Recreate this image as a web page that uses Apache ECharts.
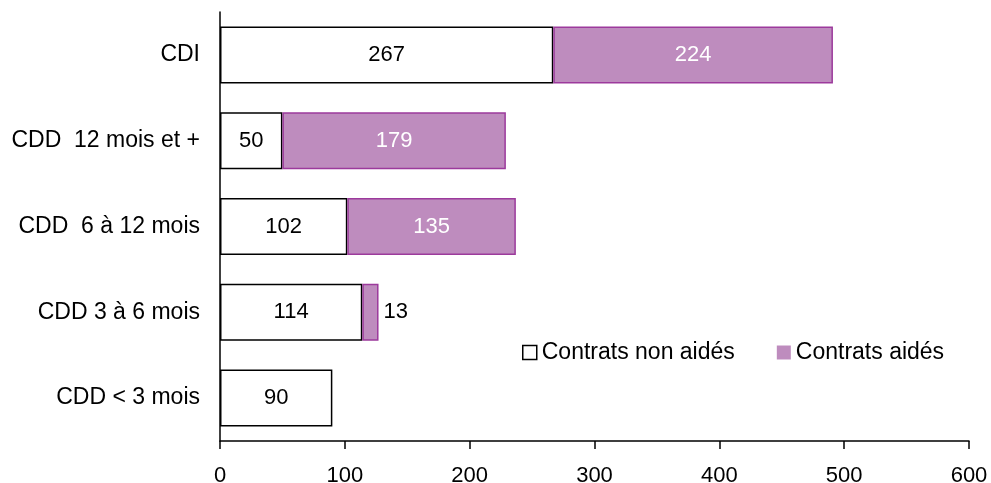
<!DOCTYPE html>
<html>
<head>
<meta charset="utf-8">
<script src="https://cdn.jsdelivr.net/npm/echarts@6/dist/echarts.min.js"></script>
<style>
  html, body { margin: 0; padding: 0; background: #fff; }
  #chart { width: 991px; height: 483px; }
</style>
</head>
<body>
<div id="chart"></div>
<script>
// Contract types, top to bottom
const categories = ['CDI', 'CDD  12 mois et +', 'CDD  6 à 12 mois', 'CDD 3 à 6 mois', 'CDD < 3 mois'];
const nonAides = [267, 50, 102, 114, 90];
const aides = [224, 179, 135, 13, null];
const xTicks = [0, 100, 200, 300, 400, 500, 600];

const FONT = '"Liberation Sans", Arial, sans-serif';
const FS_NUM = 22;
const FS_TXT = 23;
const PURPLE = '#be8cbe';
const PURPLE_EDGE = '#9c3a9c';

// Narrow segments get their label outside, to the right
const aidesData = aides.map(v => {
  if (v === null) return null;
  if (v < 30) {
    return { value: v, label: { position: 'right', color: '#000', distance: 5 } };
  }
  return v;
});

const chart = echarts.init(document.getElementById('chart'), null, { renderer: 'canvas' });
chart.setOption({
  animation: false,
  textStyle: { fontFamily: FONT },
  grid: { left: 220, right: 22, top: 12, bottom: 42, containLabel: false, outerBoundsMode: 'none' },
  legend: {
    left: 517,
    top: 336,
    itemWidth: 14,
    itemHeight: 14,
    itemGap: 42,
    textStyle: { fontFamily: FONT, fontSize: FS_TXT, color: '#000' },
    data: [
      { name: 'Contrats non aidés', icon: 'rect', itemStyle: { color: '#fff', borderColor: '#000', borderWidth: 1.5 } },
      { name: 'Contrats aidés', icon: 'rect', itemStyle: { color: PURPLE, borderWidth: 0 } }
    ]
  },
  xAxis: {
    type: 'value',
    min: 0,
    max: 600,
    interval: 100,
    splitLine: { show: false },
    axisLine: { show: true, lineStyle: { color: '#000', width: 1.5 } },
    axisTick: { show: true, inside: false, length: 8, lineStyle: { color: '#000', width: 1.5 } },
    axisLabel: {
      margin: 24,
      fontSize: FS_NUM,
      color: '#000',
      fontFamily: FONT,
      formatter: v => xTicks.includes(v) ? String(v) : ''
    }
  },
  yAxis: {
    type: 'category',
    data: categories,
    inverse: true,
    axisLine: { show: true, lineStyle: { color: '#000', width: 1.5 } },
    axisTick: { show: false },
    axisLabel: { margin: 20, fontSize: FS_TXT, color: '#000', fontFamily: FONT }
  },
  series: [
    {
      name: 'Contrats non aidés',
      type: 'bar',
      stack: 'total',
      barWidth: 57,
      data: nonAides,
      itemStyle: { color: '#fff', borderColor: '#000', borderWidth: 1.5 },
      label: { show: true, position: 'inside', color: '#000', fontSize: FS_NUM, fontFamily: FONT }
    },
    {
      name: 'Contrats aidés',
      type: 'bar',
      stack: 'total',
      barWidth: 57,
      data: aidesData,
      itemStyle: { color: PURPLE, borderColor: PURPLE_EDGE, borderWidth: 1.5 },
      label: { show: true, position: 'inside', color: '#fff', fontSize: FS_NUM, fontFamily: FONT }
    }
  ]
});
</script>
</body>
</html>
